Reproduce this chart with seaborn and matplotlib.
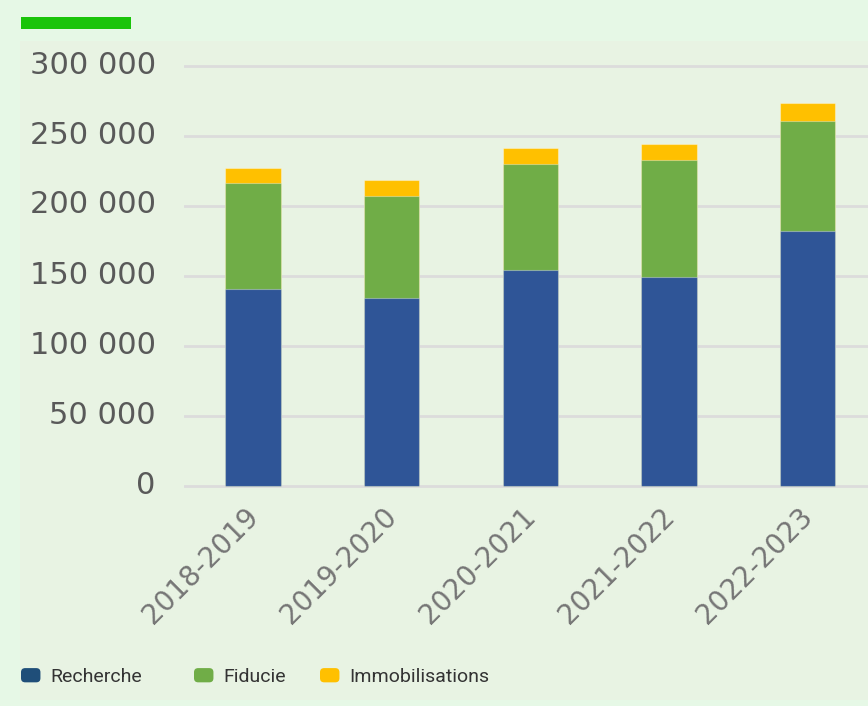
import matplotlib
matplotlib.use("Agg")
import matplotlib.pyplot as plt
import matplotlib.transforms as mtransforms
from matplotlib.patches import Patch, Rectangle, FancyBboxPatch
from matplotlib.legend_handler import HandlerPatch
import seaborn as sns
import pandas as pd
import numpy as np

# data
years = ["2018-2019", "2019-2020", "2020-2021", "2021-2022", "2022-2023"]
recherche = [141000, 134000, 154000, 149500, 182000]
fiducie = [75500, 73000, 76300, 83700, 78500]
immobilisations = [10700, 11400, 11200, 11200, 12900]
series_names = ["Recherche", "Fiducie", "Immobilisations"]
y_ticks = [0, 50000, 100000, 150000, 200000, 250000, 300000]

bar_colors = ["#2f5597", "#70ad47", "#ffc000"]
legend_colors = ["#1f4e79", "#70ad47", "#ffc000"]

df = pd.DataFrame({"year": years, "Recherche": recherche,
                   "Fiducie": fiducie, "Immobilisations": immobilisations})
df["top_fid"] = df["Recherche"] + df["Fiducie"]
df["top_imm"] = df["top_fid"] + df["Immobilisations"]

sns.set_theme(style="white")
plt.rcParams["font.family"] = ["DejaVu Sans"]

W, H = 868, 706
fig = plt.figure(figsize=(W / 100, H / 100), dpi=100)
fig.patch.set_facecolor("#e6f8e6")

# inner panel and green accent bar
fig.patches.append(Rectangle((20 / W, (H - 700) / H), 848 / W, 659 / H,
                             transform=fig.transFigure, facecolor="#e8f3e3",
                             edgecolor="none", zorder=-5))
fig.patches.append(Rectangle((21 / W, (H - 29) / H), 110 / W, 12 / H,
                             transform=fig.transFigure, facecolor="#1ac40a",
                             edgecolor="none", zorder=-5))

# axes box: value 0 sits at pixel row 486, 1.4 px per 1000
ax_left, ax_bottom, ax_top = 183.6, 490, 60
ax = fig.add_axes([ax_left / W, (H - ax_bottom) / H, (W - ax_left) / W,
                   (ax_bottom - ax_top) / H])
ax.set_zorder(2)
ax.set_facecolor("none")

# stacked bars: draw cumulative totals back to front
for col, color in zip(["top_imm", "top_fid", "Recherche"], bar_colors[::-1]):
    sns.barplot(data=df, x="year", y=col, color=color, width=0.4,
                edgecolor=(1, 1, 1, 0.35), linewidth=0.8, saturation=1,
                ax=ax, zorder=3)

ax.set_xlim(-0.5, 4.435)
ax.set_ylim(-4 / 1.4 * 1000, (486 - ax_top) / 1.4 * 1000)
ax.set_yticks(y_ticks)
ax.set_yticklabels([f"{v:,}".replace(",", " ") for v in y_ticks],
                   fontsize=22, color="#595959")
ax.yaxis.grid(True, color="#dcdcdc", linewidth=2)
ax.set_axisbelow(True)
ax.tick_params(axis="y", length=0, pad=20)
ax.tick_params(axis="x", length=0, pad=16)
for s in ax.spines.values():
    s.set_visible(False)
ax.set_xlabel("")
ax.set_ylabel("")

up = mtransforms.ScaledTranslation(0, 4 / 100, fig.dpi_scale_trans)
for lbl in ax.get_yticklabels():
    lbl.set_transform(lbl.get_transform() + up)

offset = mtransforms.ScaledTranslation(1 / 100, 0, fig.dpi_scale_trans)
for lbl in ax.get_xticklabels():
    lbl.set_rotation(45)
    lbl.set_ha("right")
    lbl.set_va("center")
    lbl.set_rotation_mode("anchor")
    lbl.set_fontsize(20)
    lbl.set_color("#767676")
    lbl.set_transform(lbl.get_transform() + offset)


def rounded_patch(legend, orig_handle, xdescent, ydescent, width, height, fontsize):
    return FancyBboxPatch((-xdescent, -ydescent), width, height,
                          boxstyle="round,pad=0,rounding_size=3")


legend_x = [21, 194, 320]
for name, color, lx in zip(series_names, legend_colors, legend_x):
    leg = fig.legend(handles=[Patch(facecolor=color, edgecolor="none", label=name)],
                     loc="center left", bbox_to_anchor=(lx / W, (H - 677) / H),
                     frameon=False, borderaxespad=0, borderpad=0,
                     handlelength=1.0, handleheight=0.75, handletextpad=0.5,
                     handler_map={Patch: HandlerPatch(patch_func=rounded_patch)},
                     prop={"family": "Roboto", "size": 14})
    for t in leg.get_texts():
        t.set_color("#333333")

fig.savefig("out.png", dpi=100, facecolor=fig.get_facecolor())
